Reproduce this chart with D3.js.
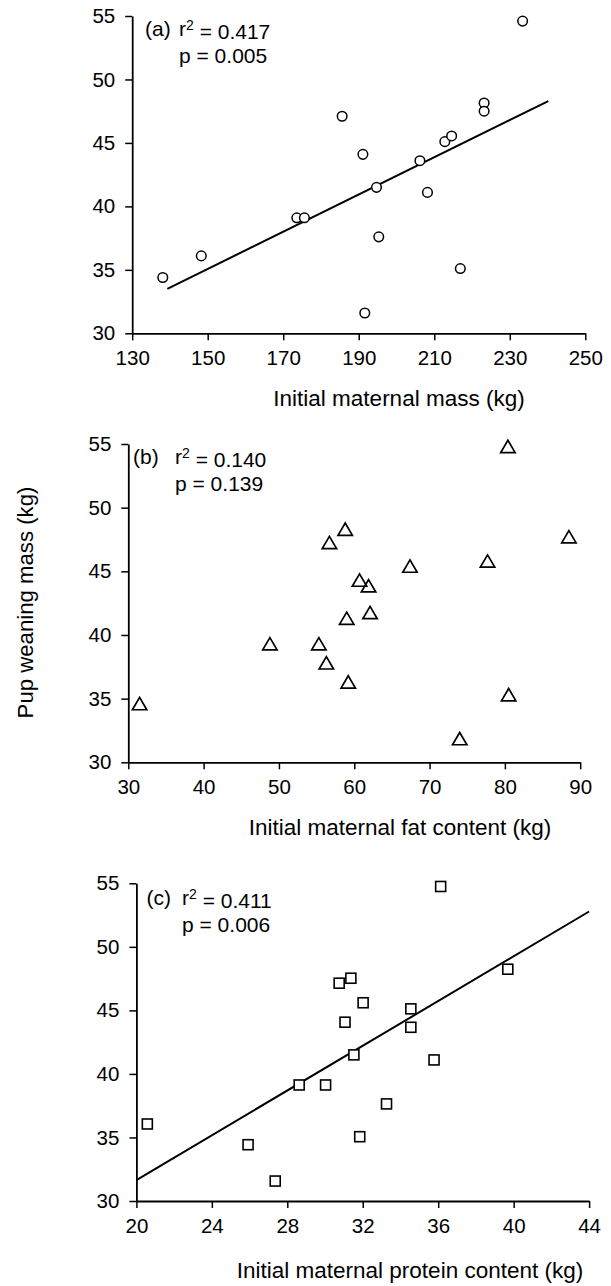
<!DOCTYPE html>
<html>
<head>
<meta charset="utf-8">
<script src="https://cdn.jsdelivr.net/npm/d3@7"></script>
<style>
  body { margin: 0; background: #fff; }
  text { font-family: "Liberation Sans", Arial, Helvetica, sans-serif; fill: #000; }
</style>
</head>
<body>
<svg id="chart" width="611" height="1286"></svg>
<script>
// pup weaning mass against three maternal measures
var weanTicks = [30, 35, 40, 45, 50, 55];

var massX = [138.1, 148.3, 173.6, 175.6, 185.6, 191.1, 194.7, 195.3, 191.6, 206.2, 208.2, 212.8, 214.6, 216.9, 223.2, 223.2, 233.4];
var weanA = [34.4, 36.1, 39.1, 39.1, 47.1, 44.1, 41.5, 37.6, 31.6, 43.6, 41.1, 45.1, 45.55, 35.1, 48.15, 47.5, 54.6];
var massTicks = [130, 150, 170, 190, 210, 230, 250];
var fitAX = [139.3, 240.2];
var fitAY = [33.5, 48.3];

var fatX = [31.5, 48.8, 55.3, 56.3, 59.2, 59.0, 62.1, 60.7, 61.9, 56.7, 58.8, 67.4, 77.7, 88.5, 80.4, 80.5, 74.0];
var weanB = [34.6, 39.3, 39.3, 37.8, 36.3, 41.3, 41.75, 44.3, 43.85, 47.25, 48.3, 45.4, 45.8, 47.7, 54.8, 35.3, 31.85];
var fatTicks = [30, 40, 50, 60, 70, 80, 90];

var protX = [20.58, 25.92, 27.36, 28.63, 30.03, 30.75, 31.37, 31.06, 31.53, 32.02, 31.84, 33.26, 34.55, 34.55, 35.78, 36.13, 39.69];
var weanC = [36.06, 34.43, 31.57, 39.13, 39.13, 47.14, 47.53, 44.07, 41.5, 45.6, 35.06, 37.64, 45.12, 43.67, 41.1, 54.75, 48.24];
var protTicks = [20, 24, 28, 32, 36, 40, 44];
var fitCX = [20, 44];
var fitCY = [31.65, 52.78];

var panelTags = ["(a)", "(b)", "(c)"];
var rSquared = ["0.417", "0.140", "0.411"];
var pValues = ["0.005", "0.139", "0.006"];
var xTitles = ["Initial maternal mass (kg)", "Initial maternal fat content (kg)", "Initial maternal protein content (kg)"];
var yTitle = "Pup weaning mass (kg)";

var svg = d3.select("#chart");
svg.append("rect").attr("width", 611).attr("height", 1286).attr("fill", "#fff");

var panels = [
  { xs: massX, ys: weanA, ticks: massTicks, x0: 132.2, x1: 585.3, y0: 333.3, y1: 16,
    shape: "circle", fitX: fitAX, fitY: fitAY, tagX: 145, rX: 179, ty: 36, py: 63, lx: 399, ly: 406 },
  { xs: fatX, ys: weanB, ticks: fatTicks, x0: 128.3, x1: 580.2, y0: 762.3, y1: 444,
    shape: "triangle", fitX: null, fitY: null, tagX: 133, rX: 175, ty: 464, py: 491, lx: 400, ly: 835 },
  { xs: protX, ys: weanC, ticks: protTicks, x0: 136.4, x1: 589.1, y0: 1201, y1: 883.3,
    shape: "square", fitX: fitCX, fitY: fitCY, tagX: 146.5, rX: 182, ty: 905, py: 932, lx: 410, ly: 1278 }
];

panels.forEach(function(p, i) {
  var x = d3.scaleLinear()
      .domain([p.ticks[0], p.ticks[p.ticks.length - 1]])
      .range([p.x0, p.x1]);
  var y = d3.scaleLinear().domain([30, 55]).range([p.y0, p.y1]);

  var g = svg.append("g").attr("class", "panel");

  var xAxis = g.append("g")
      .attr("transform", "translate(0," + p.y0 + ")")
      .call(d3.axisBottom(x).tickValues(p.ticks).tickSize(7).tickPadding(10).tickSizeOuter(0));
  var yAxis = g.append("g")
      .attr("transform", "translate(" + p.x0 + ",0)")
      .call(d3.axisLeft(y).tickValues(weanTicks).tickSize(7).tickPadding(10).tickSizeOuter(0));

  [xAxis, yAxis].forEach(function(a) {
    a.select(".domain").attr("stroke", "#000").attr("stroke-width", 1.8);
    a.selectAll(".tick line").attr("stroke", "#000").attr("stroke-width", 1.5);
    a.selectAll(".tick text")
      .style("font-size", "20.5px")
      .attr("fill", "#000");
  });

  if (p.fitX) {
    g.append("line")
      .attr("x1", x(p.fitX[0])).attr("y1", y(p.fitY[0]))
      .attr("x2", x(p.fitX[1])).attr("y2", y(p.fitY[1]))
      .attr("stroke", "#000")
      .attr("stroke-width", 2);
  }

  var pts = d3.range(p.xs.length).map(function(k) { return [p.xs[k], p.ys[k]]; });
  var marks = g.selectAll(".pt").data(pts).enter();

  if (p.shape === "circle") {
    marks.append("circle")
      .attr("cx", function(d) { return x(d[0]); })
      .attr("cy", function(d) { return y(d[1]); })
      .attr("r", 4.8)
      .attr("fill", "#fff")
      .attr("stroke", "#000")
      .attr("stroke-width", 1.5);
  } else if (p.shape === "triangle") {
    marks.append("path")
      .attr("d", "M0,-6.3L7.2,6L-7.2,6Z")
      .attr("transform", function(d) { return "translate(" + x(d[0]) + "," + y(d[1]) + ")"; })
      .attr("fill", "none")
      .attr("stroke", "#000")
      .attr("stroke-width", 1.7);
  } else {
    marks.append("rect")
      .attr("x", function(d) { return x(d[0]) - 5; })
      .attr("y", function(d) { return y(d[1]) - 5; })
      .attr("width", 10)
      .attr("height", 10)
      .attr("fill", "#fff")
      .attr("stroke", "#000")
      .attr("stroke-width", 1.6);
  }

  // r-squared and p annotation
  g.append("text")
    .attr("x", p.tagX).attr("y", p.ty)
    .style("font-size", "21px")
    .text(panelTags[i]);
  var t = g.append("text")
      .attr("x", p.rX).attr("y", p.ty)
      .style("font-size", "21px");
  t.append("tspan").text("r");
  t.append("tspan").attr("dy", "-0.45em").style("font-size", "14px").text("2");
  t.append("tspan").attr("dy", "0.45em").text(" = " + rSquared[i]);

  g.append("text")
    .attr("x", p.rX).attr("y", p.py)
    .style("font-size", "21px")
    .text("p = " + pValues[i]);

  g.append("text")
    .attr("x", p.lx).attr("y", p.ly)
    .attr("text-anchor", "middle")
    .style("font-size", "22.5px")
    .text(xTitles[i]);
});

svg.append("text")
  .attr("transform", "translate(33,602.5) rotate(-90)")
  .attr("text-anchor", "middle")
  .style("font-size", "22.2px")
  .text(yTitle);
</script>
</body>
</html>
